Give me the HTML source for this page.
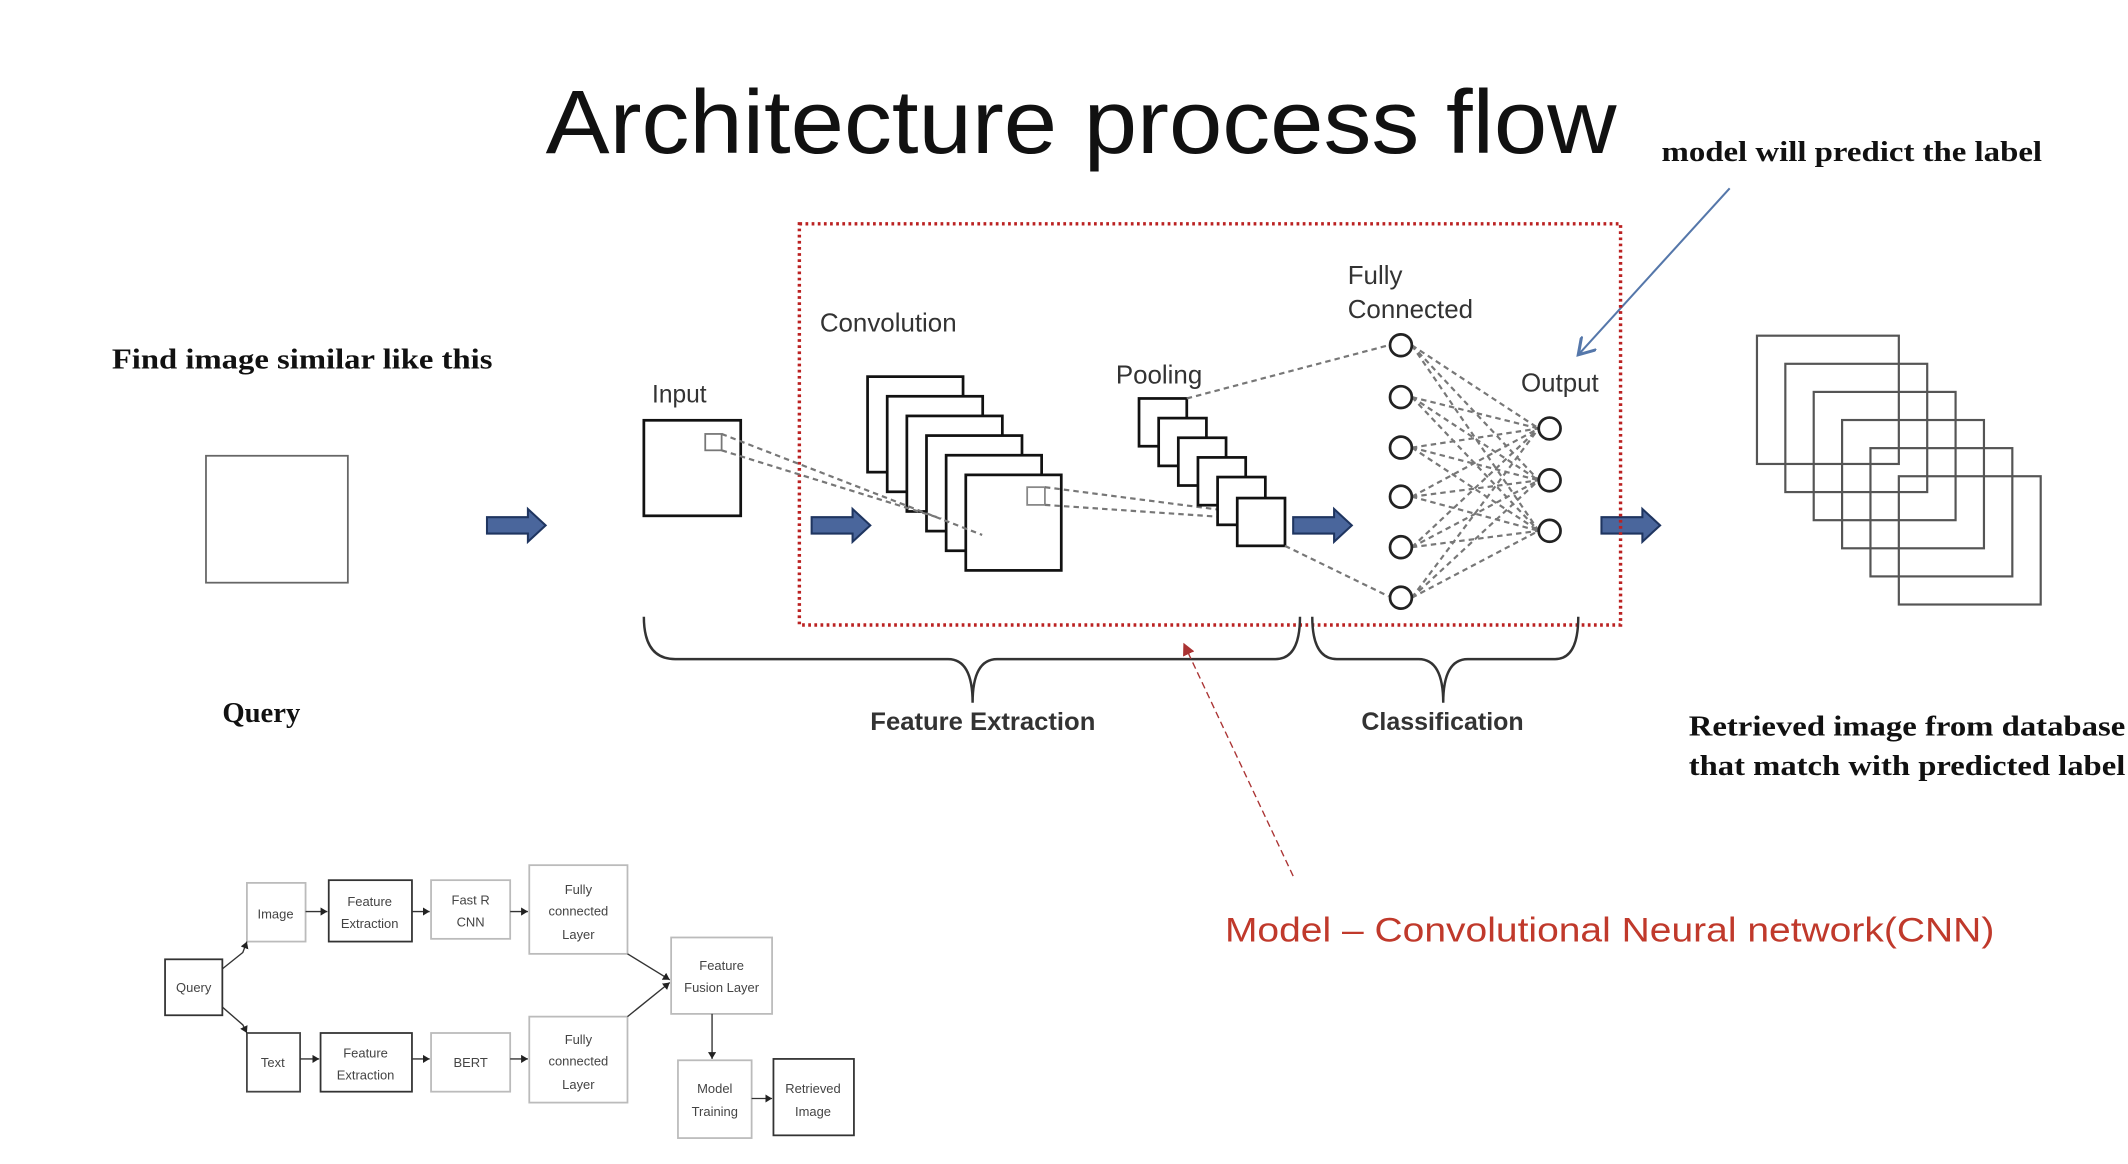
<!DOCTYPE html>
<html><head><meta charset="utf-8"><style>
html,body{margin:0;padding:0;background:#fff;}
svg{display:block;}
.s{font-family:"Liberation Serif",serif;font-weight:bold;fill:#111;}
.a{font-family:"Liberation Sans",sans-serif;fill:#333;}
.f{font-family:"Liberation Sans",sans-serif;fill:#444;font-size:9.5px;text-anchor:middle;}
</style></head><body>
<svg width="2128" height="1164" viewBox="0 0 1560 853" preserveAspectRatio="none" xmlns="http://www.w3.org/2000/svg">
<defs>
<g id="ar"><polygon points="0,-6 30,-6 30,-12 43,0 30,12 30,6 0,6" fill="#4a669c" stroke="#1f3560" stroke-width="1.5"/></g>
<marker id="mb" markerWidth="10" markerHeight="10" refX="8" refY="5" orient="auto"><path d="M0,0 L8,5 L0,10" fill="none" stroke="#5577aa" stroke-width="1.5"/></marker>
<marker id="mr" markerWidth="10" markerHeight="10" refX="8" refY="5" orient="auto"><path d="M0,1 L8,5 L0,9" fill="#a33" stroke="#a33"/></marker>
<marker id="mk" markerWidth="6" markerHeight="6" refX="5" refY="3" orient="auto"><path d="M0,0 L5,3 L0,6z" fill="#222"/></marker>
</defs>

<text x="400" y="112" font-family="Liberation Sans,sans-serif" font-size="66" fill="#111" textLength="785" lengthAdjust="spacingAndGlyphs">Architecture process flow</text>
<text class="s" x="1218" y="118" font-size="21" textLength="279" lengthAdjust="spacingAndGlyphs">model will predict the label</text>
<line x1="1268" y1="138" x2="1157" y2="260" stroke="#5577aa" stroke-width="1.5" marker-end="url(#mb)"/>

<text class="s" x="82" y="270" font-size="21" textLength="279" lengthAdjust="spacingAndGlyphs">Find image similar like this</text>
<rect x="151" y="334" width="104" height="93" fill="none" stroke="#666" stroke-width="1.3"/>
<text class="s" x="163" y="529" font-size="21">Query</text>

<use href="#ar" x="357" y="385"/>
<use href="#ar" x="595" y="385"/>
<use href="#ar" x="948" y="385"/>
<use href="#ar" x="1174" y="385"/>

<rect x="586" y="164" width="602" height="294" fill="none" stroke="#b22" stroke-width="2.5" stroke-dasharray="2,2.5"/>

<!-- input -->
<text class="a" x="478" y="295" font-size="18">Input</text>
<rect x="472" y="308" width="71" height="70" fill="#fff" stroke="#111" stroke-width="2"/>
<rect x="517" y="318" width="12" height="12" fill="none" stroke="#777" stroke-width="1.3"/>

<text class="a" x="601" y="243" font-size="19">Convolution</text>
<g fill="#fff" stroke="#111" stroke-width="2">
<rect x="636" y="276" width="70" height="70"/>
<rect x="650.4" y="290.4" width="70" height="70"/>
<rect x="664.8" y="304.8" width="70" height="70"/>
<rect x="679.2" y="319.2" width="70" height="70"/>
<rect x="693.6" y="333.6" width="70" height="70"/>
<rect x="708" y="348" width="70" height="70"/>
</g>
<rect x="753" y="357" width="13" height="13" fill="none" stroke="#888" stroke-width="1.3"/>
<g stroke="#777" stroke-width="1.6" stroke-dasharray="4,3" fill="none">
<line x1="529" y1="318" x2="720" y2="392"/>
<line x1="529" y1="330" x2="690" y2="380"/>
<line x1="766" y1="357" x2="913" y2="376"/>
<line x1="766" y1="370" x2="913" y2="380"/>
</g>

<text class="a" x="818" y="281" font-size="19">Pooling</text>
<g fill="#fff" stroke="#111" stroke-width="2">
<rect x="835" y="292" width="35" height="35"/>
<rect x="849.4" y="306.4" width="35" height="35"/>
<rect x="863.8" y="320.8" width="35" height="35"/>
<rect x="878.2" y="335.2" width="35" height="35"/>
<rect x="892.6" y="349.6" width="35" height="35"/>
<rect x="907" y="365" width="35" height="35"/>
</g>

<g stroke="#777" stroke-width="1.6" stroke-dasharray="4,3" fill="none">
<line x1="870" y1="292" x2="1018" y2="253"/>
<line x1="942" y1="400" x2="1018" y2="437"/>
<path d="M1035,253 L1128,314 M1035,253 L1128,352 M1035,253 L1128,389
M1035,291 L1128,314 M1035,291 L1128,352 M1035,291 L1128,389
M1035,328 L1128,314 M1035,328 L1128,352 M1035,328 L1128,389
M1035,364 L1128,314 M1035,364 L1128,352 M1035,364 L1128,389
M1035,401 L1128,314 M1035,401 L1128,352 M1035,401 L1128,389
M1035,438 L1128,314 M1035,438 L1128,352 M1035,438 L1128,389"/>
</g>

<text class="a" x="988" y="208" font-size="19">Fully</text>
<text class="a" x="988" y="233" font-size="19">Connected</text>
<text class="a" x="1115" y="287" font-size="19">Output</text>
<g fill="#fff" stroke="#222" stroke-width="2">
<circle cx="1027" cy="253" r="8"/><circle cx="1027" cy="291" r="8"/><circle cx="1027" cy="328" r="8"/>
<circle cx="1027" cy="364" r="8"/><circle cx="1027" cy="401" r="8"/><circle cx="1027" cy="438" r="8"/>
<circle cx="1136" cy="314" r="8"/><circle cx="1136" cy="352" r="8"/><circle cx="1136" cy="389" r="8"/>
</g>

<!-- braces -->
<g fill="none" stroke="#333" stroke-width="1.8">
<path d="M472,452 Q472,483 495,483 L695,483 Q713,483 713,515 Q713,483 731,483 L935,483 Q953,483 953,452"/>
<path d="M962,452 Q962,483 980,483 L1040,483 Q1058,483 1058,515 Q1058,483 1076,483 L1140,483 Q1157,483 1157,452"/>
</g>
<text class="a" x="638" y="535" font-size="18" font-weight="bold" fill="#222" textLength="165" lengthAdjust="spacingAndGlyphs">Feature Extraction</text>
<text class="a" x="998" y="535" font-size="18" font-weight="bold" fill="#222" textLength="119" lengthAdjust="spacingAndGlyphs">Classification</text>

<line x1="948" y1="642" x2="868" y2="472" stroke="#a33" stroke-width="1" stroke-dasharray="5,3" marker-end="url(#mr)"/>
<text x="898" y="690" font-family="Liberation Sans,sans-serif" font-size="25" fill="#c0392b" textLength="564" lengthAdjust="spacingAndGlyphs">Model – Convolutional Neural network(CNN)</text>

<!-- right stack -->
<g fill="none" stroke="#555" stroke-width="1.6">
<rect x="1288" y="246" width="104" height="94"/>
<rect x="1308.8" y="266.6" width="104" height="94"/>
<rect x="1329.6" y="287.2" width="104" height="94"/>
<rect x="1350.4" y="307.8" width="104" height="94"/>
<rect x="1371.2" y="328.4" width="104" height="94"/>
<rect x="1392" y="349" width="104" height="94"/>
</g>
<text class="s" x="1238" y="539" font-size="21" textLength="320" lengthAdjust="spacingAndGlyphs">Retrieved image from database</text>
<text class="s" x="1238" y="568" font-size="21" textLength="320" lengthAdjust="spacingAndGlyphs">that match with predicted label</text>

<!-- bottom flowchart -->
<g fill="#fff" stroke-width="1.3">
<rect x="121" y="703" width="42" height="41" stroke="#333"/>
<rect x="181" y="647" width="43" height="43" stroke="#bbb"/>
<rect x="241" y="645" width="61" height="45" stroke="#333"/>
<rect x="316" y="645" width="58" height="43" stroke="#bbb"/>
<rect x="388" y="634" width="72" height="65" stroke="#bbb"/>
<rect x="181" y="757" width="39" height="43" stroke="#444"/>
<rect x="235" y="757" width="67" height="43" stroke="#333"/>
<rect x="316" y="757" width="58" height="43" stroke="#bbb"/>
<rect x="388" y="745" width="72" height="63" stroke="#bbb"/>
<rect x="492" y="687" width="74" height="56" stroke="#bbb"/>
<rect x="497" y="777" width="54" height="57" stroke="#bbb"/>
<rect x="567" y="776" width="59" height="56" stroke="#333"/>
</g>
<g stroke="#333" stroke-width="1" fill="none">
<path d="M163,710 L178,698 L181,690" marker-end="url(#mk)"/>
<path d="M163,738 L178,751 L181,757" marker-end="url(#mk)"/>
<line x1="224" y1="668" x2="240" y2="668" marker-end="url(#mk)"/>
<line x1="302" y1="668" x2="315" y2="668" marker-end="url(#mk)"/>
<line x1="374" y1="668" x2="387" y2="668" marker-end="url(#mk)"/>
<line x1="220" y1="776" x2="234" y2="776" marker-end="url(#mk)"/>
<line x1="302" y1="776" x2="315" y2="776" marker-end="url(#mk)"/>
<line x1="374" y1="776" x2="387" y2="776" marker-end="url(#mk)"/>
<line x1="460" y1="699" x2="491" y2="718" marker-end="url(#mk)"/>
<line x1="460" y1="745" x2="491" y2="720" marker-end="url(#mk)"/>
<line x1="522" y1="743" x2="522" y2="776" marker-end="url(#mk)"/>
<line x1="551" y1="805" x2="566" y2="805" marker-end="url(#mk)"/>
</g>
<text class="f" x="142" y="727">Query</text>
<text class="f" x="202" y="673">Image</text>
<text class="f" x="271" y="664">Feature</text><text class="f" x="271" y="680">Extraction</text>
<text class="f" x="345" y="663">Fast R</text><text class="f" x="345" y="679">CNN</text>
<text class="f" x="424" y="655">Fully</text><text class="f" x="424" y="671">connected</text><text class="f" x="424" y="688">Layer</text>
<text class="f" x="200" y="782">Text</text>
<text class="f" x="268" y="775">Feature</text><text class="f" x="268" y="791">Extraction</text>
<text class="f" x="345" y="782">BERT</text>
<text class="f" x="424" y="765">Fully</text><text class="f" x="424" y="781">connected</text><text class="f" x="424" y="798">Layer</text>
<text class="f" x="529" y="711">Feature</text><text class="f" x="529" y="727">Fusion Layer</text>
<text class="f" x="524" y="801">Model</text><text class="f" x="524" y="818">Training</text>
<text class="f" x="596" y="801">Retrieved</text><text class="f" x="596" y="818">Image</text>
</svg>
</body></html>
